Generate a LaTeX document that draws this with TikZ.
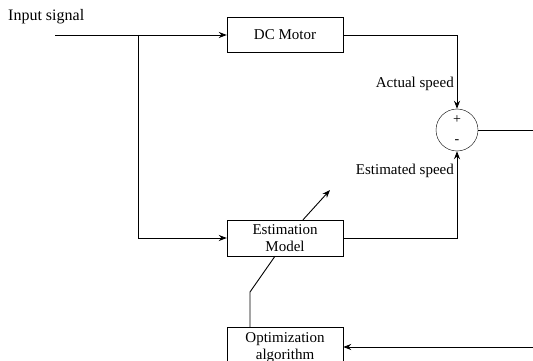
\documentclass[tikz,border=0pt]{standalone}
\usepackage{fontspec}
\setmainfont{Liberation Serif}
\usetikzlibrary{arrows.meta, positioning, shapes}

\begin{document}
\begin{tikzpicture}[
    x=1pt, y=-1pt,
    block style/.style={rectangle, draw=black, minimum width=116pt, minimum height=35pt, align=center, inner sep=1pt, font=\fontsize{15}{17}\selectfont},
    sum style/.style={circle, draw=black, minimum size=42pt, inner sep=0pt},
    label style/.style={anchor=east, inner sep=1pt, font=\fontsize{15}{17}\selectfont},
    line style/.style={line width=0.9pt},
    arrow style/.style={line width=0.9pt, -{Stealth[length=8pt, width=6pt]}}
]
        \clip (0,0) rectangle (533,361);
        \fill[white] (0,0) rectangle (533,361);

        \node[anchor=west, inner sep=1pt, font=\fontsize{16}{18}\selectfont] (inlbl) at (7,17) {Input signal};
        \coordinate (in) at (55,35);
        \coordinate (split) at (138,35);

        \node[block style] (motor) at (285,35) {DC Motor};
        \node[block style, minimum height=36pt] (estim) at (285,238) {Estimation\\Model};
        \node[block style, minimum height=40pt, anchor=north] (optim) at (285,327) {Optimization\\algorithm};
        \node[sum style] (sum) at (457,130) {};
        \node at (457,120) {\fontsize{14}{14}\selectfont +};
        \node at (457,142) {\fontsize{14}{14}\selectfont -};

        \node[label style] (actual) at (455,84) {Actual speed};
        \node[label style] (estimated) at (455,171) {Estimated speed};

        \draw[arrow style] (in) -- (motor.west);
        \draw[arrow style] (split) |- (estim.west);
        \draw[arrow style] (motor.east) -| (sum.north);
        \draw[arrow style] (estim.east) -| (sum.south);
        \draw[arrow style] (sum.east) -- (545,130) -- (545,347) -- (optim.east |- 0,347);

        \draw[arrow style] ([xshift=18pt]estim.north) -- (330,190);
        \draw[line style] ([xshift=-35pt]optim.north) -- (250,292) -- ([xshift=-10pt]estim.south);
    \end{tikzpicture}
\end{document}
